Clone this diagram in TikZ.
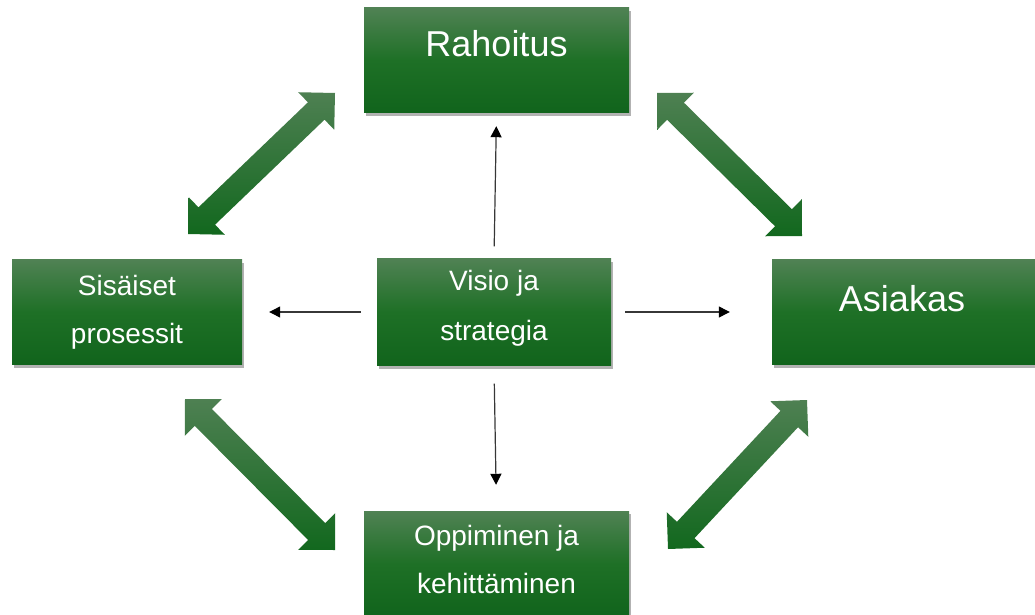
\documentclass[tikz,border=0pt]{standalone}
\usepackage{fontspec}
\setmainfont{Liberation Sans}
\usetikzlibrary{calc,shadows,arrows.meta}
\definecolor{gtop}{RGB}{80,130,84}
\definecolor{gmid}{RGB}{30,112,38}
\definecolor{gbot}{RGB}{17,100,28}
\definecolor{atop}{RGB}{78,128,82}
\definecolor{abot}{RGB}{18,104,30}
\definecolor{thin}{RGB}{55,55,55}
\newcommand\fatarr[2]{%
  \coordinate (ha) at ($(#1)!26pt!(#2)$);
  \coordinate (hb) at ($(#2)!26pt!(#1)$);
  \path[fatfill] (#1) -- ($(ha)!26pt!90:(#2)$) -- ($(ha)!12pt!90:(#2)$)
    -- ($(hb)!12pt!-90:(#1)$) -- ($(hb)!26pt!-90:(#1)$) -- (#2)
    -- ($(hb)!26pt!90:(#1)$) -- ($(hb)!12pt!90:(#1)$)
    -- ($(ha)!12pt!-90:(#2)$) -- ($(ha)!26pt!-90:(#2)$) -- cycle;}
\tikzset{
  box/.style={draw=none, top color=gtop, bottom color=gbot, middle color=gmid,
    inner sep=0pt, drop shadow={shadow xshift=2pt, shadow yshift=-3pt, opacity=0.3, fill=black}},
  lbl/.style={text=white, inner sep=0pt, anchor=base},
  big/.style={font=\fontsize{36}{36}\selectfont},
  med/.style={font=\fontsize{28}{28}\selectfont},
  fatfill/.style={top color=atop, bottom color=abot},
  thinarr/.style={draw=thin, line width=1.2pt, -{Triangle[width=11pt,length=11pt,fill=black,color=black]}}
}
\begin{document}
\begin{tikzpicture}[x=1pt,y=-1pt]
\useasboundingbox (0,0) rectangle (1035,615);
% boxes
\node[box, minimum width=265pt, minimum height=105pt] (rah) at (496.5,60.5) {};
\node[box, minimum width=230pt, minimum height=105pt] (sis) at (127,312) {};
\node[box, minimum width=234pt, minimum height=107pt] (vis) at (494,312) {};
\node[box, minimum width=263pt, minimum height=105pt] (asi) at (903.5,312) {};
\node[box, minimum width=265pt, minimum height=106pt] (opp) at (496.5,564) {};
% labels
\node[lbl, big] (trah) at (496.5,57) {Rahoitus};
\node[lbl, big] (tasi) at (902,311) {Asiakas};
\node[lbl, med] (tvis1) at (494,290.5) {Visio ja};
\node[lbl, med] (tvis2) at (494,340) {strategia};
\node[lbl, med] (tsis1) at (127,295) {Sisäiset};
\node[lbl, med] (tsis2) at (127,343) {prosessit};
\node[lbl, med] (topp1) at (496.5,545) {Oppiminen ja};
\node[lbl, med] (topp2) at (496.5,593) {kehittäminen};
% thin arrows
\draw[thinarr, shorten <=12pt, shorten >=13pt] (vis.north) -- (rah.south);
\draw[thinarr, shorten <=16pt, shorten >=27pt] (vis.west) -- (sis.east);
\draw[thinarr, shorten <=14pt, shorten >=42pt] (vis.east) -- (asi.west);
\draw[thinarr, shorten <=18pt, shorten >=26pt] (vis.south) -- (opp.north);
% fat double arrows
\coordinate (tlA) at (188,234);
\coordinate (tlB) at (335,93);
\coordinate (trA) at (657,93);
\coordinate (trB) at (802,236);
\coordinate (blA) at (185,399);
\coordinate (blB) at (335,550);
\coordinate (brA) at (668,549);
\coordinate (brB) at (807,400);
\fatarr{tlA}{tlB}
\fatarr{trA}{trB}
\fatarr{blA}{blB}
\fatarr{brA}{brB}
\end{tikzpicture}
\end{document}
